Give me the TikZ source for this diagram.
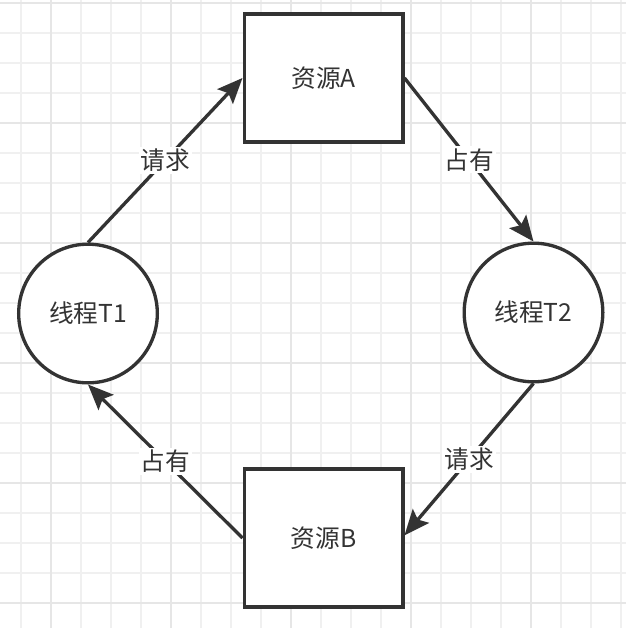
\documentclass[tikz,border=0pt]{standalone}
\usepackage{fontspec}
\newfontfamily\cjk{Noto Sans CJK SC}
\usetikzlibrary{arrows.meta}
\definecolor{ink}{HTML}{333333}
\definecolor{gridminor}{HTML}{F0F0F0}
\definecolor{gridmajor}{HTML}{E6E6E6}
\tikzset{
  txt/.style={font=\cjk\fontsize{18.5}{20}\selectfont, text=ink},
  res/.style={draw=ink, line width=2.5pt, fill=white, minimum width=119pt, inner sep=0pt, txt},
  thread/.style={draw=ink, line width=2.5pt, fill=white, circle, minimum size=104pt, inner sep=0pt, txt},
  link/.style={draw=ink, line width=2.5pt, -{Stealth[length=19pt, width=16pt, inset=3.5pt]}},
  lbl/.style={fill=white, inner sep=1.5pt, txt, midway}
}
\begin{document}
\begin{tikzpicture}[x=0.75pt, y=-0.75pt]
\useasboundingbox (0,0) rectangle (626,628);
\fill[white] (0,0) rectangle (626,628);
% grid
\foreach \i in {0,...,20} {
  \draw[gridminor, line width=1.5pt] ({21+30*\i},0) -- ({21+30*\i},628);
}
\foreach \i in {0,...,20} {
  \draw[gridminor, line width=1.5pt] (0,{3+30*\i}) -- (626,{3+30*\i});
}
\foreach \i in {0,...,4} {
  \draw[gridmajor, line width=1.5pt] ({51+120*\i},0) -- ({51+120*\i},628);
}
\foreach \i in {0,...,5} {
  \draw[gridmajor, line width=1.5pt] (0,{3+120*\i}) -- (626,{3+120*\i});
}
% nodes
\node[res, minimum height=96pt] (A) at (323.5,78) {资源A};
\node[res, minimum height=103.5pt] (B) at (323.5,538) {资源B};
\node[thread] (T1) at (88,313.5) {线程T1};
\node[thread] (T2) at (533.5,312.5) {线程T2};
% connectors
\draw[link] (T1.north) -- node[lbl] {请求} (A.west);
\draw[link] (A.east) -- node[lbl] {占有} (T2.north);
\draw[link] (T2.south) -- node[lbl] {请求} ([yshift=2pt]B.east);
\draw[link] (B.west) -- node[lbl] {占有} (T1.south);
\end{tikzpicture}
\end{document}
